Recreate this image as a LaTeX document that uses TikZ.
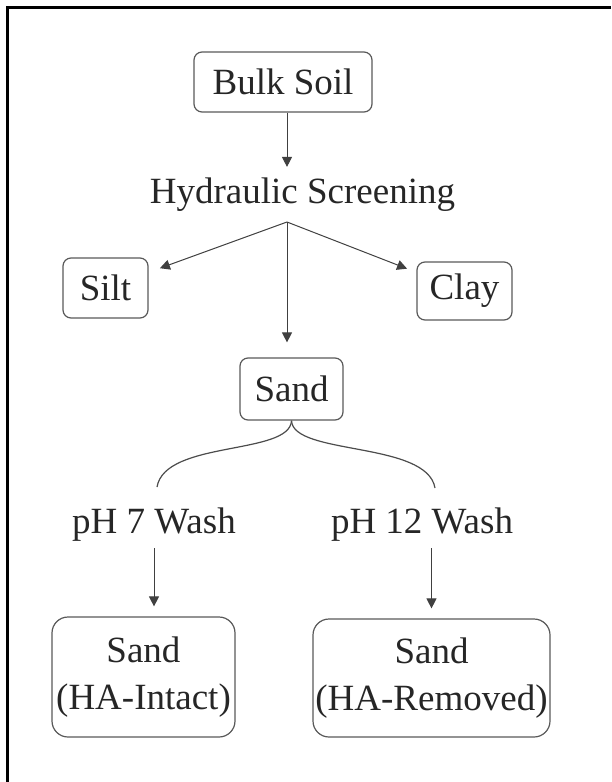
\documentclass[tikz,border=0pt]{standalone}
\usepackage{fontspec}
\setmainfont{Liberation Serif}
\usetikzlibrary{arrows.meta}

\begin{document}
\begin{tikzpicture}[x=0.5pt,y=-0.5pt,
	soilbox/.style={draw=black!65,line width=0.6pt,rounded corners=4pt,inner sep=0pt,align=center,
		text=black!85,font=\fontsize{18.5}{23.5}\selectfont},
	txt/.style={inner sep=0pt,anchor=base,text=black!85,font=\fontsize{18.5}{23.5}\selectfont},
	flow/.style={draw=black!75,line width=0.5pt,-{Triangle[width=5pt,length=5pt]}},
	wire/.style={draw=black!70,line width=0.6pt}]
%            (bulk)
%              |
%           (screen)
%          /   |    \
%     (silt) (sand) (clay)
%            /    \
%     (wash7)      (wash12)
%        |            |
%    (intact)     (removed)

	\useasboundingbox (0,0) rectangle (611,782);
	\draw[line width=1.5pt] (7,782) -- (7,7) -- (611,7);

	\node[soilbox,minimum width=89pt,minimum height=30pt] (bulk) at (283,82) {Bulk Soil};
	\node[txt] (screen) at (302.5,203) {Hydraulic Screening};
	\coordinate (split) at (287,222);
	\node[soilbox,minimum width=42.5pt,minimum height=30pt] (silt) at (105.5,288) {Silt};
	\node[soilbox,minimum width=47.5pt,minimum height=29pt] (clay) at (464.5,291) {Clay};
	\node[soilbox,minimum width=51.5pt,minimum height=31pt] (sand) at (291.5,389) {Sand};
	\node[txt] (wash7) at (154,533) {pH 7 Wash};
	\node[txt] (wash12) at (422,533) {pH 12 Wash};
	\node[soilbox,rounded corners=8pt,minimum width=91.5pt,minimum height=60pt] (intact) at (143.5,677) {Sand\\(HA-Intact)};
	\node[soilbox,rounded corners=8pt,minimum width=118.5pt,minimum height=59pt] (removed) at (431.5,678) {Sand\\(HA-Removed)};
	\coordinate (bend7) at (157,487);
	\coordinate (bend12) at (435,488);

	\draw[flow,shorten >=5pt] (bulk.south -| split) -- (screen.north -| split);
	\draw[flow,shorten >=6pt] (split) -- (silt);
	\draw[flow,shorten >=5pt] (split) -- (clay);
	\draw[flow,shorten >=7.5pt] (split) -- (sand.north -| split);

	\draw[wire] (sand.south) .. controls +(-1.5,35) and +(8,-47) .. (bend7);
	\draw[wire] (sand.south) .. controls +(1.5,35) and +(-8,-47) .. (bend12);

	\draw[flow,shorten <=3.5pt,shorten >=5pt] (wash7.south) -- (wash7.south |- intact.north);
	\draw[flow,shorten <=3.5pt,shorten >=5pt] (removed.north |- wash12.south) -- (removed.north);
\end{tikzpicture}
\end{document}
